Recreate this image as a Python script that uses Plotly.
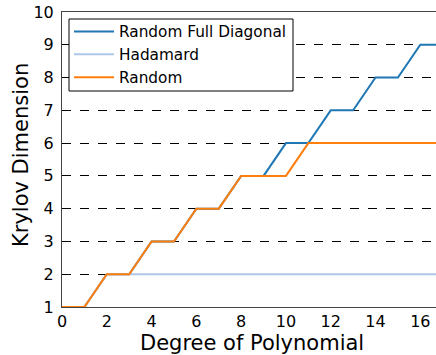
import plotly.graph_objects as go

degrees = list(range(0, 18))
random_full_diag = [1, 1, 2, 2, 3, 3, 4, 4, 5, 5, 6, 6, 7, 7, 8, 8, 9, 9]
hadamard = [1, 1, 2, 2, 2, 2, 2, 2, 2, 2, 2, 2, 2, 2, 2, 2, 2, 2]
random_vals = [1, 1, 2, 2, 3, 3, 4, 4, 5, 5, 5, 6, 6, 6, 6, 6, 6, 6]
x_ticks = list(range(0, 17, 2))
y_ticks = list(range(1, 11))

series = [
    ("Random Full Diagonal", random_full_diag, "#1f77b4"),
    ("Hadamard", hadamard, "#aec7e8"),
    ("Random", random_vals, "#ff7f0e"),
]

fig = go.Figure()
for name, vals, color in series:
    fig.add_trace(go.Scatter(x=degrees, y=vals, mode="lines", name=name,
                             line=dict(color=color, width=2)))

font_family = "DejaVu Sans"
W, H = 436, 355
L, R, T, B = 62, 0, 12, 48
pw, ph = W - L - R, H - T - B


def px_x(p):
    return (p - L) / pw


def px_y(p):
    return (H - B - p) / ph


fig.update_layout(
    width=W, height=H,
    margin=dict(l=L, r=R, t=T, b=B),
    paper_bgcolor="white", plot_bgcolor="white",
    font=dict(family=font_family, color="black"),
    legend=dict(x=px_x(69), y=px_y(15), xanchor="left", yanchor="top",
                borderwidth=0, bgcolor="rgba(0,0,0,0)",
                font=dict(size=15.3, family=font_family),
                itemwidth=40, tracegroupgap=0),
    xaxis=dict(range=[0, 16.7], tickvals=x_ticks,
               ticks="", ticklabelstandoff=0,
               showline=True, linecolor="#444", linewidth=1, mirror=True,
               showgrid=False, zeroline=False,
               tickfont=dict(size=16)),
    yaxis=dict(range=[1, 10], tickvals=y_ticks,
               ticks="", ticklabelstandoff=4,
               showline=True, linecolor="#444", linewidth=1,
               showgrid=True, gridcolor="black", griddash="dash", gridwidth=1,
               zeroline=False,
               tickfont=dict(size=16)),
    shapes=[
        dict(type="rect", xref="paper", yref="paper",
             x0=px_x(69), x1=px_x(293), y0=px_y(91), y1=px_y(19),
             line=dict(color="black", width=1), fillcolor="white", layer="above"),
    ],
    annotations=[
        dict(text="Degree of Polynomial", xref="paper", yref="paper",
             x=px_x(252), y=px_y(343), xanchor="center", yanchor="middle",
             showarrow=False, font=dict(size=21)),
        dict(text="Krylov Dimension", xref="paper", yref="paper",
             x=px_x(21), y=px_y(155), xanchor="center", yanchor="middle",
             textangle=-90, showarrow=False, font=dict(size=21)),
    ],
)

fig.write_html("out.html")
